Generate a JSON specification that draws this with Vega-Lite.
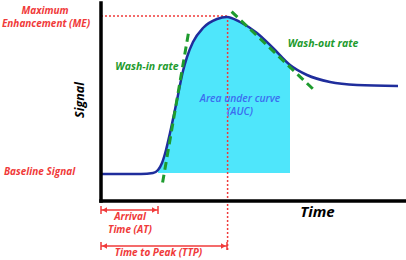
{
  "$schema": "https://vega.github.io/schema/vega-lite/v6.json",
  "width": 406,
  "height": 260,
  "padding": 0,
  "autosize": {"type": "none"},
  "background": "white",
  "config": {"view": {"stroke": null}},
  "encoding": {
    "x": {"field": "t", "type": "quantitative", "scale": {"domain": [-50.5, 152.5], "nice": false, "zero": false}, "axis": null},
    "y": {"field": "s", "type": "quantitative", "scale": {"domain": [-29.5, 100.5], "nice": false, "zero": false}, "axis": null}
  },
  "layer": [
    {
      "data": {"values": [
        {"t": 28.5, "s": 15.5}, {"t": 30.5, "s": 19}, {"t": 32.5, "s": 25.5}, {"t": 34.5, "s": 34},
        {"t": 38, "s": 50.5}, {"t": 41, "s": 65}, {"t": 43, "s": 72}, {"t": 46, "s": 79.5},
        {"t": 51, "s": 86.5}, {"t": 58, "s": 91}, {"t": 63, "s": 92}, {"t": 69.5, "s": 89.5},
        {"t": 78, "s": 84}, {"t": 86, "s": 76.5}, {"t": 94.5, "s": 68}
      ]},
      "mark": {"type": "area", "color": "#4fe6fb", "opacity": 1, "interpolate": "monotone"},
      "encoding": {"y2": {"datum": 14}}
    },
    {
      "data": {"values": [
        {"t": 0, "s": 92.5, "t2": 63.5, "s2": 92.5},
        {"t": 63.3, "s": 92.5, "t2": 63.3, "s2": -24.5}
      ]},
      "mark": {"type": "rule", "color": "#f03a3a", "strokeWidth": 1.5, "strokeDash": [2, 2]},
      "encoding": {"x2": {"field": "t2"}, "y2": {"field": "s2"}}
    },
    {
      "data": {"values": [
        {"t": 0, "s": 13.5}, {"t": 20, "s": 13.5}, {"t": 26, "s": 14}, {"t": 28.5, "s": 15.5},
        {"t": 30.5, "s": 19}, {"t": 32.5, "s": 25.5}, {"t": 34.5, "s": 34}, {"t": 38, "s": 50.5},
        {"t": 41, "s": 65}, {"t": 43, "s": 72}, {"t": 46, "s": 79.5}, {"t": 51, "s": 86.5},
        {"t": 58, "s": 91}, {"t": 63, "s": 92}, {"t": 69.5, "s": 89.5}, {"t": 78, "s": 84},
        {"t": 86, "s": 76.5}, {"t": 94.5, "s": 68}, {"t": 103, "s": 63}, {"t": 114.5, "s": 59.5},
        {"t": 128, "s": 58}, {"t": 148.5, "s": 57.5}
      ]},
      "mark": {"type": "line", "color": "#1f2d9c", "strokeWidth": 2.5, "interpolate": "monotone"},
      "encoding": {}
    },
    {
      "data": {"values": [
        {"line": "in", "t": 43.7, "s": 83.8}, {"line": "in", "t": 30.8, "s": 9.2},
        {"line": "out", "t": 65.3, "s": 94.7}, {"line": "out", "t": 106.2, "s": 55.8}
      ]},
      "mark": {"type": "line", "color": "#1e9b2e", "strokeWidth": 3, "strokeDash": [8, 5]},
      "encoding": {"detail": {"field": "line"}}
    },
    {
      "data": {"values": [
        {"t": 0, "s": 0, "t2": 0, "s2": 99},
        {"t": 0, "s": 0, "t2": 152.5, "s2": 0}
      ]},
      "mark": {"type": "rule", "color": "black", "strokeWidth": 3.5, "strokeCap": "square"},
      "encoding": {"x2": {"field": "t2"}, "y2": {"field": "s2"}}
    },
    {
      "data": {"values": [
        {"t": 0, "s": -4.5, "t2": 28.5, "s2": -4.5},
        {"t": 0, "s": -22.5, "t2": 63, "s2": -22.5},
        {"t": 0, "s": -2.5, "t2": 0, "s2": -6.5},
        {"t": 28.5, "s": -2.5, "t2": 28.5, "s2": -6.5},
        {"t": 0, "s": -20.5, "t2": 0, "s2": -24.5},
        {"t": 63, "s": -20.5, "t2": 63, "s2": -24.5}
      ]},
      "mark": {"type": "rule", "color": "#f03a3a", "strokeWidth": 1.5},
      "encoding": {"x2": {"field": "t2"}, "y2": {"field": "s2"}}
    },
    {
      "data": {"values": [
        {"t": 1.8, "s": -4.5, "dir": "triangle-left"},
        {"t": 26.7, "s": -4.5, "dir": "triangle-right"},
        {"t": 1.8, "s": -22.5, "dir": "triangle-left"},
        {"t": 61.2, "s": -22.5, "dir": "triangle-right"}
      ]},
      "mark": {"type": "point", "filled": true, "color": "#f03a3a", "opacity": 1, "size": 30},
      "encoding": {"shape": {"field": "dir", "type": "nominal", "scale": null, "legend": null}}
    },
    {
      "data": {"values": [
        {"label": "Maximum", "t": -28, "s": 94.9},
        {"label": "Enhancement (ME)", "t": -27.5, "s": 88.4},
        {"label": "Baseline Signal", "t": -30.75, "s": 14.7},
        {"label": "Arrival", "t": 14.5, "s": -8.1},
        {"label": "Time (AT)", "t": 14.5, "s": -14.6},
        {"label": "Time to Peak (TTP)", "t": 28.75, "s": -26}
      ]},
      "mark": {"type": "text", "color": "#f03a3a", "font": "Open Sans", "fontSize": 10, "fontWeight": "bold", "fontStyle": "italic", "align": "center", "baseline": "middle"},
      "encoding": {"text": {"field": "label"}}
    },
    {
      "data": {"values": [
        {"label": "Wash-in rate", "t": 23, "s": 67},
        {"label": "Wash-out rate", "t": 111, "s": 78.5}
      ]},
      "mark": {"type": "text", "color": "#1e9b2e", "font": "Open Sans", "fontSize": 10.5, "fontWeight": "bold", "fontStyle": "italic", "align": "center", "baseline": "middle"},
      "encoding": {"text": {"field": "label"}}
    },
    {
      "data": {"values": [
        {"label": "Area under curve", "t": 69.5, "s": 50.9},
        {"label": "(AUC)", "t": 69.5, "s": 44.4}
      ]},
      "mark": {"type": "text", "color": "#3b6df0", "font": "Open Sans", "fontSize": 10.3, "fontWeight": 600, "fontStyle": "italic", "align": "center", "baseline": "middle"},
      "encoding": {"text": {"field": "label"}}
    },
    {
      "data": {"values": [
        {"label": "Signal", "t": -10.5, "s": 50.5}
      ]},
      "mark": {"type": "text", "color": "black", "font": "Open Sans", "fontSize": 12.5, "fontWeight": "bold", "fontStyle": "italic", "align": "center", "baseline": "middle", "angle": 270},
      "encoding": {"text": {"field": "label"}}
    },
    {
      "data": {"values": [
        {"label": "Time", "t": 108.25, "s": -5.5}
      ]},
      "mark": {"type": "text", "color": "black", "font": "Open Sans", "fontSize": 15, "fontWeight": "bold", "fontStyle": "italic", "align": "center", "baseline": "middle"},
      "encoding": {"text": {"field": "label"}}
    }
  ]
}
